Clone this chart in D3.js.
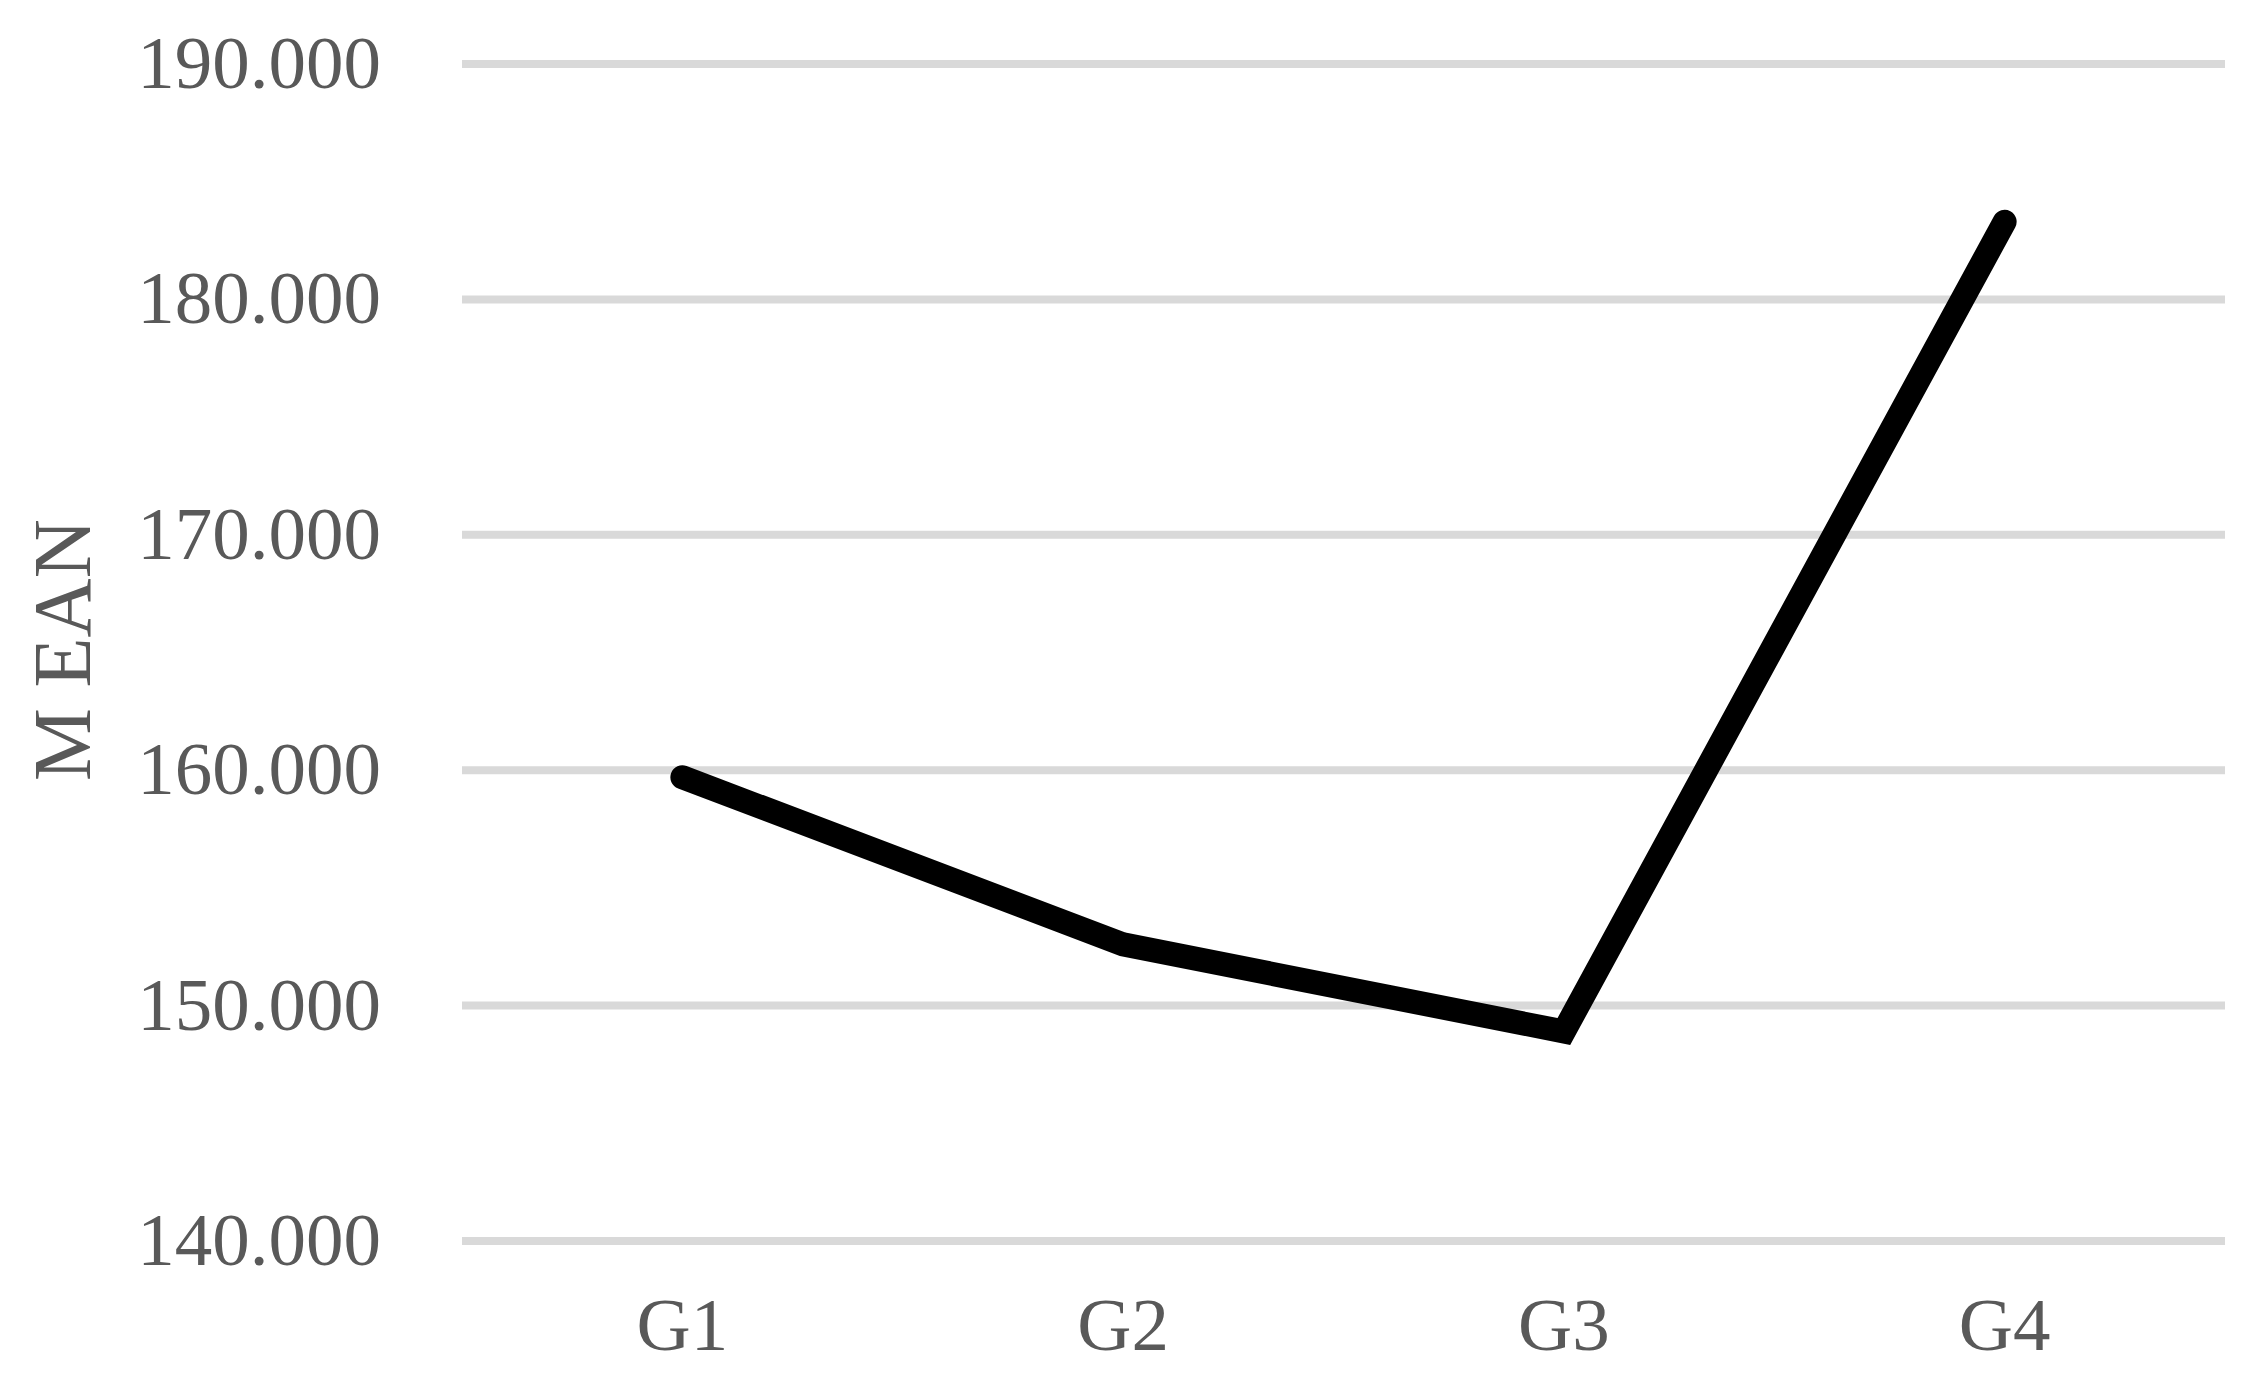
<!DOCTYPE html>
<html>
<head>
<meta charset="utf-8">
<script src="https://cdn.jsdelivr.net/npm/d3@7/dist/d3.min.js"></script>
<style>
    html, body { margin: 0; padding: 0; background: #ffffff; }
    svg { display: block; }
    .tick-label, .axis-title { font-family: "Liberation Serif", "Times New Roman", serif; fill: #595959; }
</style>
</head>
<body>
<svg id="chart"></svg>
<script>
    // data
    var groups = ['G1', 'G2', 'G3', 'G4'];
    var means = [159.7, 152.6, 148.9, 183.3];
    var yTicks = [140, 150, 160, 170, 180, 190];
    var yTitle = 'M EAN';

    var width = 2260,
        height = 1381;
    var plot = { left: 462, right: 2225, top: 64, bottom: 1241 };

    var svg = d3.select('#chart')
        .attr('width', width)
        .attr('height', height);

    var x = d3.scaleBand()
        .domain(groups)
        .range([plot.left, plot.right])
        .padding(0);

    var y = d3.scaleLinear()
        .domain([140, 190])
        .range([plot.bottom, plot.top]);

    var fmt = d3.format('.3f');

    // horizontal gridlines
    svg.append('g')
        .attr('class', 'grid')
        .selectAll('line')
        .data(yTicks)
        .enter().append('line')
        .attr('x1', plot.left)
        .attr('x2', plot.right)
        .attr('y1', function(d) { return y(d); })
        .attr('y2', function(d) { return y(d); })
        .attr('stroke', '#d9d9d9')
        .attr('stroke-width', 8);

    // y tick labels
    svg.append('g')
        .selectAll('text')
        .data(yTicks)
        .enter().append('text')
        .attr('class', 'tick-label')
        .attr('x', 381)
        .attr('y', function(d) { return y(d) + 24; })
        .style('text-anchor', 'end')
        .style('font-size', '75px')
        .text(function(d) { return fmt(d); });

    // x category labels
    svg.append('g')
        .selectAll('text')
        .data(groups)
        .enter().append('text')
        .attr('class', 'tick-label')
        .attr('x', function(d) { return x(d) + x.bandwidth() / 2; })
        .attr('y', 1350)
        .style('text-anchor', 'middle')
        .style('font-size', '75px')
        .text(function(d) { return d; });

    // y axis title
    svg.append('text')
        .attr('class', 'axis-title')
        .attr('transform', 'translate(90,650) rotate(-90)')
        .style('text-anchor', 'middle')
        .style('font-size', '82px')
        .text(yTitle);

    // the mean line
    var line = d3.line()
        .x(function(d, i) { return x(groups[i]) + x.bandwidth() / 2; })
        .y(function(d) { return y(d); });

    svg.append('path')
        .datum(means)
        .attr('d', line)
        .attr('fill', 'none')
        .attr('stroke', '#000000')
        .attr('stroke-width', 24)
        .attr('stroke-linecap', 'round')
        .attr('stroke-linejoin', 'miter');
</script>
</body>
</html>
